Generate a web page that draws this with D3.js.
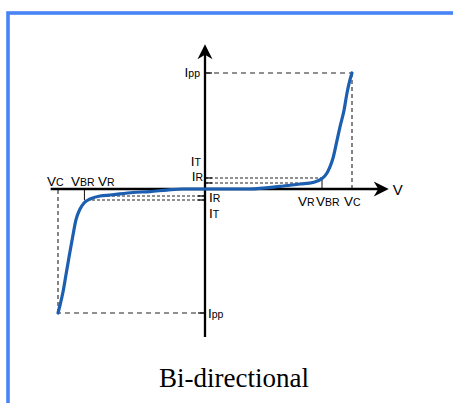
<!DOCTYPE html>
<html>
<head>
<meta charset="utf-8">
<script src="https://cdn.jsdelivr.net/npm/d3@7"></script>
<style>
  body { margin: 0; background: #fff; }
  svg { display: block; }
  text { font-family: "Liberation Sans", Arial, sans-serif; fill: #000; }
</style>
</head>
<body>
<div id="vis"></div>
<script>
// I-V curve of a bi-directional TVS diode (arbitrary units)
var curveV = [-10, -9.86, -9.66, -9.46, -9.25, -8.98, -8.78, -8.5, -8.23, -7.82, -7.14, -6.46, -4.9, -3.74, -2.59, -1.5,
              0, 3.06, 5.1, 6.46, 7.35, 7.96, 8.3, 8.5, 8.71, 8.98, 9.18, 9.46, 9.66, 9.86, 10];
var curveI = [-10.69, -10.0, -8.88, -7.41, -5.86, -3.97, -2.67, -1.72, -1.2, -0.86, -0.6, -0.52, -0.3, -0.22, -0.09, 0,
              0, 0, 0.22, 0.43, 0.56, 0.9, 1.38, 1.9, 2.67, 4.2, 5.34, 6.8, 8.28, 9.4, 10];

// characteristic levels, positive and negative side
var levelNames = ['Ipp+', 'IT+', 'IR+', 'IR-', 'IT-', 'Ipp-'];
var levelV = [10, 7.96, 6.5, -7.0, -8.2, -10];
var levelI = [10, 0.95, 0.52, -0.6, -0.95, -10.69];

// axis labels: main letter + small subscript
var labelMain = ['I', 'I', 'I', 'I', 'I', 'I', 'V', 'V', 'V', 'V', 'V', 'V'];
var labelSub = ['pp', 'T', 'R', 'R', 'T', 'pp', 'C', 'BR', 'R', 'R', 'BR', 'C'];

var title = 'Bi-directional';

var width = 453;
var height = 403;

var svg = d3.select('#vis').append('svg')
  .attr('width', width)
  .attr('height', height);

// frame
svg.append('rect')
  .attr('x', 8)
  .attr('y', 13)
  .attr('width', 520)
  .attr('height', 460)
  .style('fill', 'none')
  .style('stroke', '#4884f5')
  .style('stroke-width', 3.6);

var x = d3.scaleLinear().domain([-10, 10]).range([58, 352]);
var y = d3.scaleLinear().domain([-10, 10]).range([305, 73]);

var g = svg.append('g');

// dashed guide lines
var guides = [];
levelNames.forEach(function (n, i) {
  var dense = n.indexOf('pp') < 0;
  guides.push({ x1: 0, y1: levelI[i], x2: levelV[i], y2: levelI[i], dash: dense ? '3,2' : '5,4' });
  if (!dense) {
    guides.push({ x1: levelV[i], y1: levelI[i], x2: levelV[i], y2: 0, dash: '4,3' });
  }
});

g.append('g')
  .attr('class', 'guides')
  .selectAll('line')
  .data(guides)
  .enter().append('line')
  .attr('x1', function (d) { return x(d.x1); })
  .attr('y1', function (d) { return y(d.y1); })
  .attr('x2', function (d) { return x(d.x2); })
  .attr('y2', function (d) { return y(d.y2); })
  .style('stroke', '#222')
  .style('stroke-width', 1.1)
  .style('stroke-dasharray', function (d) { return d.dash; });

// short solid drop lines at VBR
[1, 4].forEach(function (i) {
  g.append('line')
    .attr('x1', x(levelV[i])).attr('x2', x(levelV[i]))
    .attr('y1', y(levelI[i])).attr('y2', y(0))
    .style('stroke', '#222')
    .style('stroke-width', 1.1);
});

// tick marks on the current axis
g.append('g')
  .selectAll('line')
  .data(levelI)
  .enter().append('line')
  .attr('x1', x(0))
  .attr('x2', function (d) { return d > 0 ? x(0) + 7 : x(0) - 7; })
  .attr('y1', function (d) { return y(d); })
  .attr('y2', function (d) { return y(d); })
  .style('stroke', '#111')
  .style('stroke-width', 1.3);

// axes
var vMin = -10.5, vMax = 12.5, iMin = -12.75, iMax = 12.3;
g.append('line')
  .attr('x1', x(vMin)).attr('x2', x(vMax) - 8)
  .attr('y1', y(0)).attr('y2', y(0))
  .style('stroke', '#000').style('stroke-width', 2.3);
g.append('line')
  .attr('x1', x(0)).attr('x2', x(0))
  .attr('y1', y(iMin)).attr('y2', y(iMax) + 8)
  .style('stroke', '#000').style('stroke-width', 2.3);

var arrow = 'M0,0 L-15,-7.5 L-10.5,0 L-15,7.5 Z';
g.append('path')
  .attr('d', arrow)
  .attr('transform', 'translate(' + x(vMax) + ',' + y(0) + ')')
  .style('fill', '#000');
g.append('path')
  .attr('d', arrow)
  .attr('transform', 'translate(' + x(0) + ',' + (y(iMax) - 2) + ') rotate(-90)')
  .style('fill', '#000');

// the I-V curve
var pts = curveV.map(function (v, i) { return [v, curveI[i]]; });
var line = d3.line()
  .x(function (d) { return x(d[0]); })
  .y(function (d) { return y(d[1]); })
  .curve(d3.curveMonotoneX);

g.append('path')
  .datum(pts)
  .attr('d', line)
  .style('fill', 'none')
  .style('stroke', '#1c5fb0')
  .style('stroke-width', 3.2)
  .style('stroke-linecap', 'round');

// labels (layout positions)
var labelPos = [
  [200, 77, 'end'], [201, 165.5, 'end'], [203, 181, 'end'],
  [209, 202, 'start'], [209, 218, 'start'], [208, 318, 'start'],
  [47, 186, 'start'], [71, 186, 'start'], [98, 186, 'start'],
  [298, 206, 'start'], [316, 206, 'start'], [344, 206, 'start']
];

var labels = g.append('g').attr('class', 'labels');
labelMain.forEach(function (m, i) {
  var t = labels.append('text')
    .attr('x', labelPos[i][0])
    .attr('y', labelPos[i][1])
    .attr('text-anchor', labelPos[i][2])
    .style('font-size', '13.5px');
  t.append('tspan').text(m);
  t.append('tspan').style('font-size', '10.5px').text(labelSub[i]);
});

labels.append('text')
  .attr('x', x(vMax) + 4)
  .attr('y', y(0) + 5.5)
  .style('font-size', '15px')
  .text('V');

svg.append('text')
  .attr('x', 234)
  .attr('y', 387)
  .attr('text-anchor', 'middle')
  .style('font-family', '"Liberation Serif", "Times New Roman", serif')
  .style('font-size', '27px')
  .style('fill', '#000')
  .text(title);
</script>
</body>
</html>
